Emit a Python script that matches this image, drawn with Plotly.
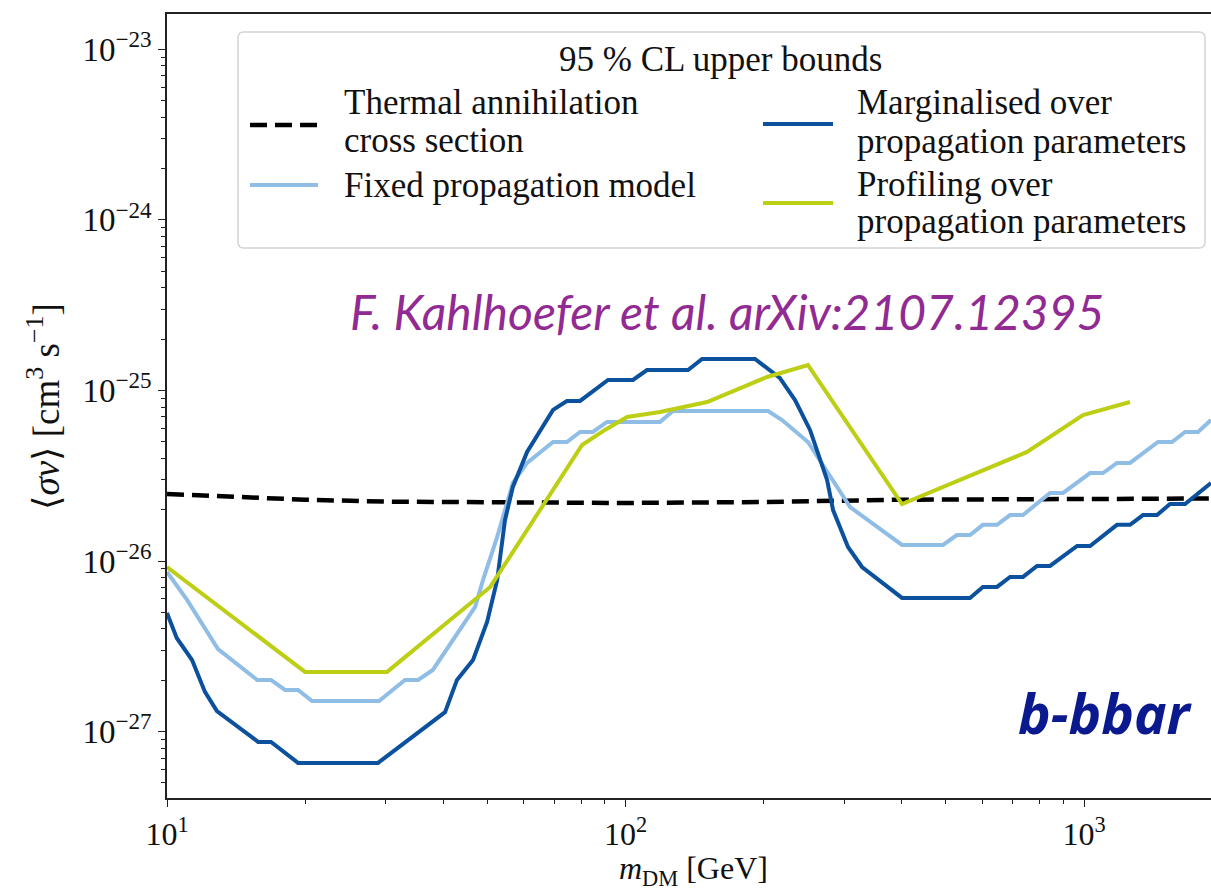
import plotly.graph_objects as go

# ---------------- data ----------------
thermal_m = [10, 15, 20, 30, 50, 100, 200, 400, 1000, 2000]
thermal_sv = [2.47e-26, 2.36e-26, 2.29e-26, 2.23e-26, 2.20e-26, 2.19e-26,
              2.22e-26, 2.29e-26, 2.31e-26, 2.33e-26]

fixed_m = [10, 11.06, 12.92, 15.72, 16.86, 18.09, 19.31, 20.72, 29.0, 33.04,
           35.3, 38.0, 47.0, 48.9, 52.5, 56.8, 61.0, 69.5, 74.5, 79.6, 84.9,
           91.1, 118.9, 126.9, 204.6, 219.5, 250, 309, 400.9, 492.6, 528,
           564, 602, 646, 690, 736, 843, 900, 1031, 1100, 1180, 1260, 1450,
           1556, 1661, 1773, 1892]
fixed_sv = [8.63e-27, 5.92e-27, 3.05e-27, 2.01e-27, 2.01e-27, 1.755e-27,
            1.755e-27, 1.51e-27, 1.51e-27, 2.01e-27, 2.01e-27, 2.30e-27,
            5.38e-27, 7.75e-27, 1.385e-26, 2.87e-26, 3.76e-26, 4.99e-26,
            4.99e-26, 5.71e-26, 5.71e-26, 6.54e-26, 6.54e-26, 7.58e-26,
            7.58e-26, 6.71e-26, 4.99e-26, 2.07e-26, 1.243e-26, 1.243e-26,
            1.42e-26, 1.42e-26, 1.63e-26, 1.63e-26, 1.86e-26, 1.86e-26,
            2.51e-26, 2.51e-26, 3.28e-26, 3.28e-26, 3.76e-26, 3.76e-26,
            4.99e-26, 4.99e-26, 5.71e-26, 5.71e-26, 6.71e-26]

marg_m = [10, 10.5, 11.34, 12.1, 12.85, 15.8, 16.86, 19.31, 28.86, 33.9,
          40.4, 42.9, 46.5, 49.9, 52.5, 54.6, 56.8, 61.0, 69.5, 74.5, 79.6,
          91.6, 103.8, 111.4, 136.9, 146.9, 191.6, 217, 234.3, 252.6, 275.2,
          283.6, 305.7, 328, 400.9, 564, 602, 646, 690, 736, 790, 843, 966,
          1031, 1180, 1260, 1345, 1443, 1540, 1661, 1892]
marg_sv = [4.97e-27, 3.54e-27, 2.63e-27, 1.71e-27, 1.32e-27, 8.71e-28,
           8.71e-28, 6.56e-28, 6.56e-28, 9.06e-28, 1.30e-27, 2.01e-27,
           2.63e-27, 4.40e-27, 7.75e-27, 1.74e-26, 2.72e-26, 4.36e-26,
           7.69e-26, 8.68e-26, 8.68e-26, 1.152e-25, 1.152e-25, 1.318e-25,
           1.318e-25, 1.53e-25, 1.53e-25, 1.184e-25, 8.79e-26, 5.87e-26,
           2.99e-26, 1.99e-26, 1.21e-26, 9.23e-27, 6.08e-27, 6.08e-27,
           7.05e-27, 7.05e-27, 8.07e-27, 8.07e-27, 9.36e-27, 9.36e-27,
           1.226e-26, 1.226e-26, 1.63e-26, 1.63e-26, 1.86e-26, 1.86e-26,
           2.16e-26, 2.16e-26, 2.87e-26]

prof_m = [10, 20.0, 30.2, 50.7, 80.4, 90.2, 100.8, 118.9, 150.6, 203.6,
          250, 400.9, 751, 995, 1260]
prof_sv = [9.23e-27, 2.24e-27, 2.24e-27, 7.05e-27, 4.79e-26, 5.87e-26,
           6.99e-26, 7.48e-26, 8.56e-26, 1.20e-25, 1.41e-25, 2.16e-26,
           4.36e-26, 7.18e-26, 8.56e-26]

x_tickvals = [10, 100, 1000]
x_ticktext = ["10<sup>1</sup>", "10<sup>2</sup>", "10<sup>3</sup>"]
y_tickvals = [1e-27, 1e-26, 1e-25, 1e-24, 1e-23]
y_ticktext = ["10<sup>−27</sup>", "10<sup>−26</sup>", "10<sup>−25</sup>",
              "10<sup>−24</sup>", "10<sup>−23</sup>"]

legend_title = "95 % CL upper bounds"
names = {
    "thermal": ["Thermal annihilation", "cross section"],
    "fixed": ["Fixed propagation model"],
    "marg": ["Marginalised over", "propagation parameters"],
    "prof": ["Profiling over", "propagation parameters"],
}

# ---------------- styling ----------------
C_THERM = "#000000"
C_FIXED = "#8fbde6"
C_MARG = "#0b519d"
C_PROF = "#bccf15"
SERIF = "Liberation Serif, DejaVu Serif, serif"

W, H = 1211, 892
L, R, T, B = 167, 0, 14, 94
PW, PH = W - L - R, H - T - B


def px(x):
    return (x - L) / PW


def py(y):
    return (H - B - y) / PH


fig = go.Figure()
fig.add_trace(go.Scatter(x=thermal_m, y=thermal_sv, mode="lines",
                         name="Thermal annihilation cross section",
                         line=dict(color=C_THERM, width=4.5, dash="17px,8px"),
                         showlegend=False))
fig.add_trace(go.Scatter(x=fixed_m, y=fixed_sv, mode="lines",
                         name="Fixed propagation model",
                         line=dict(color=C_FIXED, width=4), showlegend=False))
fig.add_trace(go.Scatter(x=marg_m, y=marg_sv, mode="lines",
                         name="Marginalised over propagation parameters",
                         line=dict(color=C_MARG, width=4), showlegend=False))
fig.add_trace(go.Scatter(x=prof_m, y=prof_sv, mode="lines",
                         name="Profiling over propagation parameters",
                         line=dict(color=C_PROF, width=4), showlegend=False))


def minor_vals(lo, hi):
    out = []
    for e in range(lo, hi + 1):
        for k in range(2, 10):
            out.append(k * 10.0 ** e)
    return out


fig.update_xaxes(type="log", range=[1, 1 + (W - L) / 458.5],
                 tickmode="array", tickvals=x_tickvals, ticktext=x_ticktext,
                 ticks="outside", ticklen=7, tickwidth=1.3, tickcolor="#222",
                 showline=True, linecolor="#222", linewidth=1.5, mirror=True,
                 showgrid=False, zeroline=False,
                 tickfont=dict(family=SERIF, size=32, color="#111"),
                 minor=dict(tickmode="array", tickvals=minor_vals(1, 3),
                            ticks="outside", ticklen=4, tickwidth=1,
                            tickcolor="#222", showgrid=False))
fig.update_yaxes(type="log", range=[-27.389, -22.793],
                 tickmode="array", tickvals=y_tickvals, ticktext=y_ticktext,
                 ticks="outside", ticklen=7, tickwidth=1.3, tickcolor="#222",
                 showline=True, linecolor="#222", linewidth=1.5, mirror=False,
                 showgrid=False, zeroline=False,
                 tickfont=dict(family=SERIF, size=33, color="#111"),
                 minor=dict(tickmode="array", tickvals=minor_vals(-28, -23),
                            ticks="outside", ticklen=4, tickwidth=1,
                            tickcolor="#222", showgrid=False))

shapes = []
ann = []

# legend box (rounded)
bx0, bx1, by0, by1 = 238, 1205, 32, 248
r = 6
rx, ry = r / PW, r / PH
X0, X1, Y0, Y1 = px(bx0), px(bx1), py(by1), py(by0)
path = (f"M {X0+rx},{Y0} L {X1-rx},{Y0} Q {X1},{Y0} {X1},{Y0+ry} "
        f"L {X1},{Y1-ry} Q {X1},{Y1} {X1-rx},{Y1} L {X0+rx},{Y1} "
        f"Q {X0},{Y1} {X0},{Y1-ry} L {X0},{Y0+ry} Q {X0},{Y0} {X0+rx},{Y0} Z")
shapes.append(dict(type="path", path=path, xref="paper", yref="paper",
                   fillcolor="rgba(255,255,255,0.85)",
                   line=dict(color="#d4d4d4", width=1.5), layer="above"))


def sample(x0, x1, y, color, dash=None, width=4):
    shapes.append(dict(type="line", xref="paper", yref="paper",
                       x0=px(x0), x1=px(x1), y0=py(y), y1=py(y),
                       line=dict(color=color, width=width, dash=dash),
                       layer="above"))


def text(x, y, s, size=35, anchor="left", family=SERIF, color="#111",
         **kw):
    ann.append(dict(x=px(x), y=py(y), xref="paper", yref="paper", text=s,
                    showarrow=False, xanchor=anchor, yanchor="middle",
                    font=dict(family=family, size=size, color=color), **kw))


text(720, 60, legend_title, anchor="center")
sample(250, 318, 125, C_THERM, dash="17px,8px", width=4.5)
text(342, 103, names["thermal"][0])
text(342, 140, names["thermal"][1])
sample(250, 318, 185, C_FIXED)
text(342, 186, names["fixed"][0])
sample(763, 833, 124, C_MARG)
text(855, 103, names["marg"][0])
text(855, 141, names["marg"][1])
sample(763, 833, 203, C_PROF)
text(855, 184, names["prof"][0])
text(855, 222, names["prof"][1])

# annotations
text(727, 311, "<i>F. Kahlhoefer et al. arXiv:2107.12395</i>", size=48,
     anchor="center", family="Lato, Open Sans, sans-serif", color="#912b93")
text(1105, 712, "<b><i>b-bbar</i></b>", size=55, anchor="center",
     family="Open Sans, Lato, sans-serif", color="#0a1a8e")

# axis titles
text(693, 870, "<i>m</i><sub>DM</sub> [GeV]", size=32, anchor="center")
ann.append(dict(x=px(44), y=py(407), xref="paper", yref="paper",
                text="⟨<i>σv</i>⟩ [cm<sup>3</sup> s<sup>−1</sup>]",
                showarrow=False, textangle=-90, xanchor="center",
                yanchor="middle",
                font=dict(family=SERIF, size=37, color="#111")))

fig.update_layout(width=W, height=H, margin=dict(l=L, r=R, t=T, b=B),
                  paper_bgcolor="white", plot_bgcolor="white",
                  shapes=shapes, annotations=ann, showlegend=False)

fig.write_html("out.html")
